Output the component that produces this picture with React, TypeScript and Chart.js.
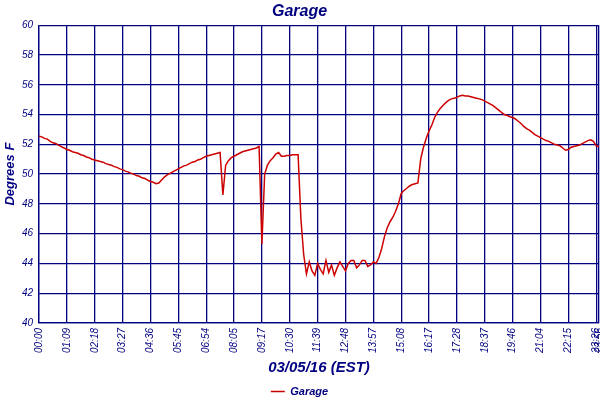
import React, { useEffect, useRef } from 'react';
import { Chart, registerables } from 'chart.js';

Chart.register(...registerables);

// Tick labels along the time axis (one every 10 samples, last one at the final sample)
const tickLabels = [
  '00:00', '01:09', '02:18', '03:27', '04:36', '05:45', '06:54', '08:05', '09:17', '10:30',
  '11:39', '12:48', '13:57', '15:08', '16:17', '17:28', '18:37', '19:46', '21:04', '22:15',
  '23:26', '23:56',
];
const samplesPerTick = 10;

// Garage temperature readings, degrees F
const temps = [
  52.55, 52.5, 52.4, 52.35, 52.2, 52.1, 52.05, 51.95, 51.85, 51.75,
  51.65, 51.6, 51.5, 51.45, 51.4, 51.3, 51.25, 51.15, 51.1, 51.0,
  50.95, 50.9, 50.85, 50.8, 50.7, 50.65, 50.6, 50.5, 50.45, 50.35,
  50.3, 50.2, 50.15, 50.05, 50.0, 49.9, 49.85, 49.75, 49.7, 49.6,
  49.5, 49.45, 49.35, 49.4, 49.6, 49.8, 49.95, 50.05, 50.15, 50.25,
  50.35, 50.45, 50.55, 50.6, 50.7, 50.8, 50.85, 50.95, 51.0, 51.1,
  51.2, 51.25, 51.3, 51.35, 51.4, 51.45, 48.6, 50.6, 50.9, 51.1,
  51.2, 51.3, 51.4, 51.5, 51.55, 51.6, 51.65, 51.7, 51.75, 51.85,
  45.3, 50.0, 50.6, 50.9, 51.1, 51.35, 51.45, 51.2, 51.2, 51.25,
  51.25, 51.3, 51.3, 51.3, 47.0, 44.6, 43.3, 44.1, 43.5, 43.2,
  44.0, 43.6, 43.3, 44.2, 43.4, 43.9, 43.2, 43.7, 44.1, 43.8,
  43.5, 44.0, 44.2, 44.2, 43.7, 43.9, 44.2, 44.2, 43.8, 43.9,
  44.1, 44.0, 44.4, 45.0, 45.8, 46.4, 46.8, 47.1, 47.5, 48.0,
  48.7, 48.9, 49.05, 49.2, 49.3, 49.35, 49.4, 51.0, 51.8, 52.4,
  52.9, 53.3, 53.8, 54.15, 54.4, 54.6, 54.8, 54.95, 55.05, 55.1,
  55.15, 55.25, 55.3, 55.25, 55.25, 55.2, 55.15, 55.1, 55.05, 55.0,
  54.9, 54.8, 54.7, 54.6, 54.45, 54.3, 54.15, 54.0, 53.95, 53.85,
  53.8, 53.7, 53.55, 53.4, 53.2, 53.05, 52.95, 52.8, 52.65, 52.55,
  52.45, 52.35, 52.25, 52.2, 52.1, 52.0, 51.95, 51.9, 51.75, 51.6,
  51.65, 51.8, 51.85, 51.9, 51.95, 52.05, 52.15, 52.25, 52.3, 52.2,
  51.9, 51.85,
];

const navy = '#000080';
const red = '#cc0000';
const fontFamily = '"Liberation Sans", Arial, sans-serif';

const GarageChart: React.FC = () => {
  const canvasRef = useRef<HTMLCanvasElement>(null);
  const chartRef = useRef<Chart | null>(null);

  useEffect(() => {
    document.body.style.margin = '0';
    if (!canvasRef.current) return;
    if (chartRef.current) chartRef.current.destroy();

    const lastIndex = temps.length - 1;
    const tickPositions = tickLabels.map((_, i) =>
      i < tickLabels.length - 1 ? i * samplesPerTick : lastIndex
    );

    chartRef.current = new Chart(canvasRef.current, {
      type: 'line',
      data: {
        datasets: [{
          label: 'Garage',
          data: temps.map((t, i) => ({ x: i, y: t })),
          borderColor: red,
          backgroundColor: red,
          borderWidth: 1.5,
          pointRadius: 0,
          pointStyle: 'line',
          tension: 0,
        }],
      },
      options: {
        animation: false,
        responsive: true,
        maintainAspectRatio: false,
        layout: { padding: { left: 0, right: 1, top: 0, bottom: -7 } },
        plugins: {
          title: {
            display: true,
            text: 'Garage',
            color: navy,
            font: { family: fontFamily, size: 16, weight: 'bold', style: 'italic' },
            padding: { top: 2, bottom: 4 },
          },
          legend: {
            position: 'bottom',
            labels: {
              color: navy,
              usePointStyle: true,
              pointStyleWidth: 14,
              font: { family: fontFamily, size: 11, weight: 'bold', style: 'italic' },
              padding: 2,
            },
          },
          tooltip: { enabled: false },
        },
        scales: {
          x: {
            type: 'linear',
            min: 0,
            max: lastIndex,
            afterBuildTicks: (scale: any) => {
              scale.ticks = tickPositions.map((v) => ({ value: v }));
            },
            afterFit: (scale: any) => {
              scale.paddingLeft = 0;
              scale.paddingRight = 0;
            },
            ticks: {
              autoSkip: false,
              maxRotation: 90,
              minRotation: 90,
              color: navy,
              padding: 5,
              font: { family: fontFamily, size: 10, style: 'italic' },
              callback: (_v: any, index: number) => tickLabels[index],
            },
            grid: { color: navy, lineWidth: 1.3, drawTicks: false },
            border: { color: navy, width: 1.3 },
            title: {
              display: true,
              text: '03/05/16 (EST)',
              color: navy,
              font: { family: fontFamily, size: 15, weight: 'bold', style: 'italic' },
              padding: { top: 1, bottom: 7 },
            },
          },
          y: {
            min: 40,
            max: 60,
            ticks: {
              stepSize: 2,
              color: navy,
              padding: 6,
              font: { family: fontFamily, size: 10, style: 'italic' },
            },
            grid: { color: navy, lineWidth: 1.3, drawTicks: false },
            border: { color: navy, width: 1.3 },
            title: {
              display: true,
              text: 'Degrees F',
              color: navy,
              font: { family: fontFamily, size: 13, weight: 'bold', style: 'italic' },
              padding: { top: 3, bottom: 2 },
            },
            afterFit: (scale: any) => {
              scale.width = 39;
            },
          },
        },
      },
    });

    return () => {
      if (chartRef.current) {
        chartRef.current.destroy();
        chartRef.current = null;
      }
    };
  }, []);

  return (
    <div style={{ position: 'relative', width: 600, height: 400, background: '#ffffff' }}>
      <canvas ref={canvasRef}></canvas>
    </div>
  );
};

export default function App() {
  return <GarageChart />;
}
